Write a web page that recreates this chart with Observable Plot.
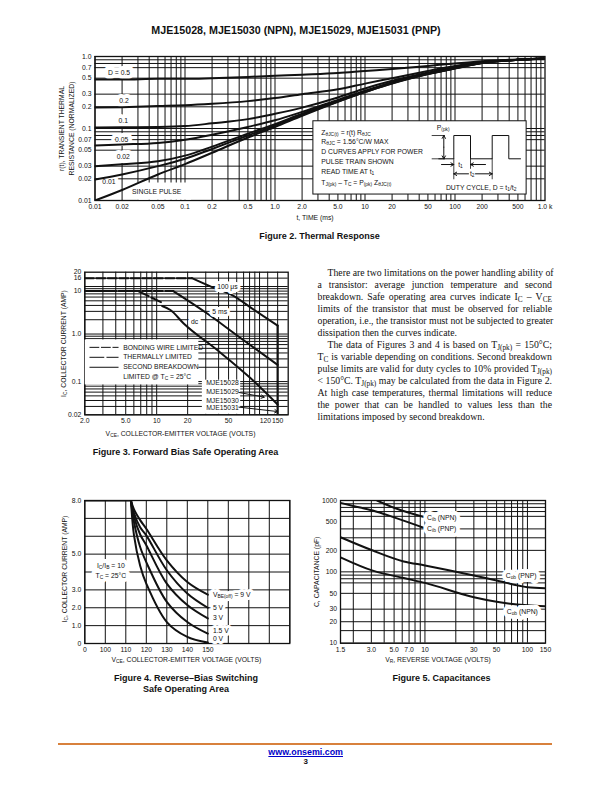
<!DOCTYPE html>
<html><head><meta charset="utf-8">
<script src="https://cdn.jsdelivr.net/npm/d3@7"></script>
<script src="https://cdn.jsdelivr.net/npm/@observablehq/plot@0.6"></script>
<style>
html,body{margin:0;padding:0;background:#fff;}
body{position:relative;width:612px;height:792px;overflow:hidden;font-family:"Liberation Sans",Arial,sans-serif;color:#111;}
.t{position:absolute;text-align:center;font-weight:bold;white-space:nowrap;transform:translateX(-50%);line-height:11px;}
#body{position:absolute;left:317.5px;top:266.5px;width:234.5px;font-family:"Liberation Serif",serif;font-size:9.75px;line-height:12.03px;color:#111;}
#body div{text-align:justify;text-align-last:justify;white-space:nowrap;height:12.03px;}
#body div.e{text-align-last:left;}
#body div.i{text-indent:10px;}
#body sub{font-size:75%;line-height:0;vertical-align:-2px;}
#rule{position:absolute;left:58.3px;width:493.7px;top:742.5px;height:2.4px;background:#d8813c;}
#url{position:absolute;left:305.7px;top:747px;transform:translateX(-50%);font-weight:bold;font-size:8.9px;color:#0000c8;text-decoration:underline;white-space:nowrap;}
#pg{position:absolute;left:305.7px;top:757px;transform:translateX(-50%);font-weight:bold;font-size:8px;}
</style></head><body>
<script>
// ---------- Figure 2 data ----------
const thermalT = [0.01,0.02,0.05,0.1,0.2,0.5,1,2,5,10,20,50,100,200,500,1000];
const thermalD05 = [0.48,0.48,0.49,0.49,0.50,0.52,0.54,0.56,0.59,0.63,0.67,0.74,0.80,0.86,0.91,0.94];
const thermalD02 = [0.195,0.198,0.205,0.21,0.22,0.24,0.265,0.30,0.35,0.42,0.50,0.63,0.74,0.83,0.90,0.94];
const thermalD01 = [0.103,0.104,0.105,0.108,0.118,0.135,0.16,0.195,0.27,0.36,0.46,0.60,0.72,0.82,0.90,0.94];
const thermalD005 = [0.058,0.06,0.063,0.07,0.082,0.105,0.13,0.17,0.25,0.335,0.44,0.58,0.70,0.82,0.90,0.94];
const thermalD002 = [0.03,0.032,0.035,0.042,0.056,0.085,0.115,0.16,0.24,0.325,0.43,0.575,0.69,0.815,0.90,0.94];
const thermalD001 = [0.0195,0.023,0.03,0.038,0.052,0.08,0.11,0.155,0.237,0.32,0.425,0.57,0.685,0.81,0.90,0.94];
const thermalSingle = [0.01,0.014,0.023,0.032,0.046,0.075,0.105,0.15,0.235,0.32,0.42,0.57,0.68,0.81,0.90,0.94];
const thermalXTicks = [0.01,0.02,0.05,0.1,0.2,0.5,1,2,5,10,20,50,100,200,500,1000];
const thermalXLabels = ["0.01","0.02","0.05","0.1","0.2","0.5","1.0","2.0","5.0","10","20","50","100","200","500","1.0 k"];
const thermalYTicks = [1,0.7,0.5,0.3,0.2,0.1,0.07,0.05,0.03,0.02,0.01];
const thermalYLabels = ["1.0","0.7","0.5","0.3","0.2","0.1","0.07","0.05","0.03","0.02","0.01"];
const thermalYGrid = [0.01,0.02,0.03,0.05,0.07,0.08,0.09,0.1,0.2,0.3,0.5,0.7,0.8,0.9,1];
const thermalCurveNames = ["D = 0.5","0.2","0.1","0.05","0.02","0.01"];
const thermalCurveNameT = [0.0185,0.021,0.0206,0.0198,0.0206,0.0143];
const thermalCurveNameR = [0.587,0.245,0.126,0.0695,0.04,0.018];
const boxLines = ["Z_{θJC(t)} = r(t) R_{θJC}","R_{θJC} = 1.56°C/W MAX","D CURVES APPLY FOR POWER","PULSE TRAIN SHOWN","READ TIME AT t_{1}","T_{J(pk)} – T_{C} = P_{(pk)} Z_{θJC(t)}"];
const boxLineR = [0.0871,0.066,0.0474,0.0348,0.025,0.0176];
// pulse diagram (inset)
const pulseT = [8.3,23.3,23.3,40,40,61.7,61.7,78.3,78.3,90];
const pulseP = [0,0,1,1,0,0,1,1,0,0];
// ---------- Figure 3 data ----------
const bondV = [2,22], bondI = [15,15];
const bond5V = [2,14.5], bond5I = [8,8];
const thermV = [2,6.6,11], thermI = [8,8,4.7];
const limit100V = [22,35,54,89,150], limit100I = [15,9.6,6.6,3.2,1.5];
const limit5V = [14.5,31,61,150], limit5I = [8,2.7,0.92,0.224];
const limitDcV = [11.3,13.6,18.3,38.8,82,150], limitDcI = [3.9,3.2,1.67,0.46,0.117,0.033];
const limitVce = [150,150], limitVceI = [1.5,0.02];
const fbXTicks = [2,5,10,20,50,114,150];
const fbXLabels = ["2.0","5.0","10","20","50","120","150"];
const fbYTicks = [20,15,8,1,0.1,0.02];
const fbYLabels = ["20","16","10","1.0","0.1","0.02"];
const fbXGrid = [2,3,4,5,6,7,8,9,10,20,30,40,50,60,70,80,90,100,120,150];
const fbYGrid = [0.02,0.03,0.04,0.05,0.06,0.07,0.08,0.09,0.1,0.2,0.3,0.4,0.5,0.6,0.7,0.8,0.9,1,2,3,4,5,6,7,8,9,10,15];
const fbLegend = ["BONDING WIRE LIMITED","THERMALLY LIMITED","SECOND BREAKDOWN","LIMITED @ T_{C} = 25°C"];
const fbLegendI = [0.525,0.324,0.2,0.123];
const fbParts = ["MJE15028","MJE15029","MJE15030","MJE15031"];
const fbPartI = [0.095,0.0608,0.0394,0.0276];
const fbCurveNames = ["100 μs","5 ms","dc"];
const fbCurveV = [48.7,41,23.4], fbCurveI = [9.8,2.9,1.8];
// ---------- Figure 4 data ----------
const rbVFlat = [0,112.5], rbIFlat = [8,8];
const rbV = [112.5,114,117,120,130,140,150];
const rb9 = [8,7.5,6.9,6.42,4.65,3.44,2.73];
const rb5 = [8,7.3,6.5,6.05,4.1,2.8,2.0];
const rb3 = [8,7.1,6.1,5.5,3.35,2.15,1.4];
const rb15 = [8,6.8,5.4,4.55,2.33,1.2,0.55];
const rb0 = [8,6.05,4.35,3.35,1.2,0.37,0.05];
const rbXLabels = ["0","100","110","120","130","140","150"];
const rbYTicks = [8,5,3,2,1,0];
const rbYLabels = ["8.0","5.0","3.0","2.0","1.0","0"];
const rbNames = ["V_{BE(off)} = 9 V","5 V","3 V","1.5 V","0 V"];
const rbNameI = [2.73,2.0,1.45,0.7,0.24];
// ---------- Figure 5 data ----------
const cibNpnV = [3.41,5,10], cibNpn = [1000,790,583];
const cibPnpV = [1.5,2,3.1,5,10], cibPnp = [927,840,725,580,409];
const cobPnpV = [1.5,3.1,6.2,10,30,50,100,150], cobPnp = [306,199,140,123,89,75.6,61,59];
const cobNpnV = [1.5,3.1,6.2,10,30,50,100,150], cobNpn = [160,104,82,70,44,38,34,33];
const capXTicks = [1.5,3,5,7,10,30,50,100,150];
const capXLabels = ["1.5","3.0","5.0","7.0","10","30","50","100","150"];
const capYTicks = [1000,500,200,100,50,30,20,10];
const capXGrid = [1.5,2,3,4,5,6,7,8,9,10,20,30,40,50,60,70,80,90,100,150];
const capYGrid = [10,15,20,30,50,70,80,90,100,200,300,400,600,700,800,900,1000];
const capNames = ["C_{ib} (NPN)","C_{ib} (PNP)","C_{ob} (PNP)","C_{ob} (NPN)"];
const capNameV = [10.5,10.5,61.4,62.8], capNameC = [570,401,89,27.2];

const FONT = "Liberation Sans";
const INK = "#111";
const zip = (xs, ys) => xs.map((x, i) => ({x, y: ys[i]}));
const decades = (ds) => ds.flatMap(d => [1,2,3,4,5,6,7,8,9].map(k => d * k));

function addSubscripts(svg) {
  svg.querySelectorAll("text, tspan").forEach(el => {
    if (el.children.length || !el.textContent.includes("_{")) return;
    const parts = el.textContent.split(/(_\{[^}]*\})/);
    el.textContent = "";
    parts.forEach(p => {
      if (!p) return;
      const s = document.createElementNS("http://www.w3.org/2000/svg", "tspan");
      if (p.startsWith("_{")) {
        s.textContent = p.slice(2, -1);
        s.setAttribute("font-size", "72%");
        s.setAttribute("baseline-shift", "-22%");
      } else s.textContent = p;
      el.appendChild(s);
    });
  });
}

function place(plotOpts, left, top) {
  const svg = Plot.plot({
    ...plotOpts,
    style: {background: "transparent", position: "absolute", left: left + "px", top: top + "px",
            fontFamily: FONT, fontSize: "6.8px", color: INK, overflow: "visible", maxWidth: "none"}
  });
  addSubscripts(svg);
  document.body.appendChild(svg);
  return svg;
}
const gridX = (v, o = {}) => Plot.ruleX(v, {stroke: INK, strokeWidth: 1, strokeOpacity: 1, ...o});
const gridY = (v, o = {}) => Plot.ruleY(v, {stroke: INK, strokeWidth: 1, strokeOpacity: 1, ...o});
const curve = (xs, ys, o = {}) => Plot.line(zip(xs, ys), {x: "x", y: "y", stroke: INK, strokeWidth: 2, curve: "monotone-x", clip: true, ...o});
const logAxes = (xv, xl, yv, yl, xPad, yPad) => [
  Plot.text(xv, {x: d => d, text: (d, i) => xl[i], frameAnchor: "bottom", lineAnchor: "top", dy: xPad, fontSize: 6.8, fill: INK}),
  Plot.text(yv, {y: d => d, text: (d, i) => yl[i], frameAnchor: "left", textAnchor: "end", dx: -yPad, fontSize: 6.8, fill: INK})
];
const plainText = (names, xs, ys, o = {}) => Plot.text(names.map((n, i) => ({n, x: xs[i], y: ys[i]})),
  {x: "x", y: "y", text: "n", fontSize: 6.8, fill: INK, ...o});
// a knocked-out label: a white halo under the text, then the text itself
const labelText = (names, xs, ys, o = {}, halo = 6) => [
  plainText(names, xs, ys, {...o, fill: "white", stroke: "white", strokeWidth: halo}),
  plainText(names, xs, ys, o)
];

// ---------- Figure 2 ----------
place({
  width: 500, height: 170, marginLeft: 44.5, marginRight: 5.5, marginTop: 6, marginBottom: 20,
  x: {type: "log", domain: [0.01, 1000], axis: null},
  y: {type: "log", domain: [0.01, 1], axis: null},
  marks: [
    gridX(decades([0.01,0.1,1,10,100])),
    gridY(thermalYGrid),
    Plot.frame({stroke: INK, strokeWidth: 1.3}),
    plainText(thermalCurveNames, thermalCurveNameT, thermalCurveNameR, {fill: "white", stroke: "white", strokeWidth: 8}),
    Plot.rect([{x1: 0.0295, x2: 0.118, y1: 0.0101, y2: 0.0175}], {x1: "x1", x2: "x2", y1: "y1", y2: "y2", fill: "white"}),
    plainText(["SINGLE PULSE"], [0.0484], [0.0133]),
    ...[thermalD05, thermalD02, thermalD01, thermalD005, thermalD002, thermalD001, thermalSingle].map(s => curve(thermalT, s)),
    plainText(thermalCurveNames, thermalCurveNameT, thermalCurveNameR),
    Plot.rect([{x1: 2.67, x2: 625, y1: 0.0121, y2: 0.126}], {x1: "x1", x2: "x2", y1: "y1", y2: "y2", fill: "white", stroke: INK, strokeWidth: 1}),
    plainText(boxLines, boxLines.map(() => 3.27), boxLineR, {textAnchor: "start"}),
    ...logAxes(thermalXTicks, thermalXLabels, thermalYTicks, thermalYLabels, 3.5, 3.5),
    Plot.text(["t, TIME (ms)"], {frameAnchor: "bottom", dy: 19, dx: -5, fontSize: 6.8, fill: INK}),
    Plot.text(["r(t), TRANSIENT THERMAL\nRESISTANCE (NORMALIZED)"], {frameAnchor: "left", textAnchor: "middle", rotate: -90, dx: -29, fontSize: 6.8, fill: INK, lineHeight: 1.38})
  ]
}, 50, 50);

// pulse train inset
place({
  width: 95, height: 70, margin: 0,
  x: {domain: [0, 95], axis: null},
  y: {domain: [-1.575, 1.43], axis: null},
  marks: [
    Plot.line(zip(pulseT, pulseP), {x: "x", y: "y", stroke: INK, strokeWidth: 1}),
    Plot.ruleY([0, 1], {x1: 1.7, x2: 15, stroke: INK, strokeWidth: 0.8}),
    Plot.arrow([{x1: 13.3, x2: 13.3, y1: 0.5, y2: 1}, {x1: 13.3, x2: 13.3, y1: 0.5, y2: 0}],
      {x1: "x1", x2: "x2", y1: "y1", y2: "y2", stroke: INK, strokeWidth: 1, headLength: 5}),
    Plot.ruleX([23.3], {y1: 0, y2: -0.9, stroke: INK, strokeWidth: 0.8}),
    Plot.ruleX([40], {y1: 0, y2: -0.45, stroke: INK, strokeWidth: 0.8}),
    Plot.ruleX([61.7], {y1: 0, y2: -0.9, stroke: INK, strokeWidth: 0.8}),
    Plot.arrow([
      {x1: 11, x2: 23.3, y1: -0.245, y2: -0.245}, {x1: 55, x2: 40, y1: -0.245, y2: -0.245},
      {x1: 38, x2: 23.3, y1: -0.644, y2: -0.644}, {x1: 45, x2: 61.7, y1: -0.644, y2: -0.644}],
      {x1: "x1", x2: "x2", y1: "y1", y2: "y2", stroke: INK, strokeWidth: 1, headLength: 5}),
    plainText(["P_{(pk)}", "t_{1}", "t_{2}", "DUTY CYCLE, D = t_{1}/t_{2}"], [12.7, 30, 41.7, 50.7], [1.31, -0.245, -0.644, -1.26])
  ]
}, 430, 125);

// ---------- Figure 3 ----------
place({
  width: 238, height: 170, marginLeft: 34.3, marginRight: 0.3, marginTop: 11.7, marginBottom: 15.7,
  x: {type: "log", domain: [2, 190], axis: null},
  y: {type: "log", domain: [0.02, 20], axis: null},
  marks: [
    gridX(fbXGrid),
    gridY(fbYGrid),
    Plot.frame({stroke: INK, strokeWidth: 1.3}),
    Plot.rect([{x1: 2.02, x2: 25.7, y1: 0.085, y2: 0.75}, {x1: 27.8, x2: 65.6, y1: 0.0205, y2: 0.107}],
      {x1: "x1", x2: "x2", y1: "y1", y2: "y2", fill: "white"}),
    curve(bondV, bondI, {strokeDasharray: "9,2.5", curve: "linear"}),
    curve(bond5V, bond5I, {strokeDasharray: "9,2.5", curve: "linear"}),
    curve(thermV, thermI, {strokeDasharray: "14,3", curve: "linear"}),
    curve(limit100V, limit100I),
    curve(limit5V, limit5I),
    curve(limitDcV, limitDcI),
    curve(limitVce, limitVceI, {curve: "linear", strokeWidth: 2.2}),
    curve([2.24,4.22], [fbLegendI[0],fbLegendI[0]], {strokeDasharray: "9,2.5", curve: "linear", strokeWidth: 1}),
    curve([2.24,4.22], [fbLegendI[1],fbLegendI[1]], {strokeDasharray: "14,3", curve: "linear", strokeWidth: 1}),
    curve([2.24,4.22], [fbLegendI[2],fbLegendI[2]], {curve: "linear", strokeWidth: 1}),
    plainText(fbLegend, fbLegend.map(() => 4.72), fbLegendI, {textAnchor: "start"}),
    plainText(fbParts, fbParts.map(() => 43.6), fbPartI),
    Plot.arrow([{x1: 63, x2: 111, y1: 0.059, y2: 0.047}, {x1: 63, x2: 150, y1: 0.029, y2: 0.0234}],
      {x1: "x1", x2: "x2", y1: "y1", y2: "y2", stroke: INK, strokeWidth: 1, headLength: 5}),
    ...labelText(fbCurveNames, fbCurveV, fbCurveI),
    ...logAxes(fbXTicks, fbXLabels, fbYTicks, fbYLabels, 3.8, 3.5),
    Plot.text(["V_{CE}, COLLECTOR-EMITTER VOLTAGE (VOLTS)"], {frameAnchor: "bottom", dy: 21, dx: -6, fontSize: 6.8, fill: INK}),
    Plot.text(["I_{C}, COLLECTOR CURRENT (AMP)"], {frameAnchor: "left", textAnchor: "middle", rotate: -90, dx: -21, fontSize: 6.8, fill: INK})
  ]
}, 50, 260);

// ---------- Figure 4 ----------
const rbPos = v => v <= 100 ? v / 100 : 1 + (v - 100) / 10;
place({
  width: 240, height: 160, marginLeft: 34.3, marginRight: 0.7, marginTop: 4, marginBottom: 13,
  x: {domain: [0, 10]},
  y: {domain: [0, 8]},
  marks: [
    gridX([0,1,2,3,4,5,6,7,8,9,10]),
    gridY([0,1,2,3,4,5,6,7,8]),
    Plot.frame({stroke: INK, strokeWidth: 1.3}),
    ...labelText(["I_{C}/I_{B} = 10", "T_{C} = 25°C"], [1.27, 1.27], [4.37, 3.77], {}, 8),
    curve(rbVFlat.map(rbPos), rbIFlat, {curve: "linear", strokeWidth: 2.2}),
    ...[rb9, rb5, rb3, rb15, rb0].map(s => curve(rbV.map(rbPos), s, {curve: "catmull-rom"})),
    ...labelText(rbNames, rbNames.map(() => 6.25), rbNameI, {textAnchor: "start"}),
    Plot.axisX({ticks: [0,1,2,3,4,5,6], tickFormat: (d, i) => rbXLabels[i], tickSize: 0, tickPadding: 3.5, label: null, fontSize: 6.8, fill: INK}),
    Plot.axisY({ticks: rbYTicks, tickFormat: (d, i) => rbYLabels[i], tickSize: 0, tickPadding: 3.5, label: null, fontSize: 6.8, fill: INK}),
    Plot.text(["V_{CE}, COLLECTOR-EMITTER VOLTAGE (VOLTS)"], {frameAnchor: "bottom", dy: 18, dx: -1, fontSize: 6.8, fill: INK}),
    Plot.text(["I_{C}, COLLECTOR CURRENT (AMP)"], {frameAnchor: "left", textAnchor: "middle", rotate: -90, dx: -20, dy: -3, fontSize: 6.8, fill: INK})
  ]
}, 50, 496);

// ---------- Figure 5 ----------
place({
  width: 240, height: 160, marginLeft: 35, marginRight: 0, marginTop: 4, marginBottom: 13.3,
  x: {type: "log", domain: [1.5, 150], axis: null},
  y: {type: "log", domain: [10, 1000], axis: null},
  marks: [
    gridX(capXGrid),
    gridY(capYGrid),
    Plot.frame({stroke: INK, strokeWidth: 1.3}),
    curve(cibNpnV, cibNpn),
    curve(cibPnpV, cibPnp),
    curve(cobPnpV, cobPnp),
    curve(cobNpnV, cobNpn),
    ...labelText(capNames, capNameV, capNameC, {textAnchor: "start"}, 8),
    ...logAxes(capXTicks, capXLabels, capYTicks, capYTicks.map(String), 3.5, 3.5),
    Plot.text(["V_{R}, REVERSE VOLTAGE (VOLTS)"], {frameAnchor: "bottom", dy: 19, dx: -5, fontSize: 6.8, fill: INK}),
    Plot.text(["C, CAPACITANCE (pF)"], {frameAnchor: "left", textAnchor: "middle", rotate: -90, dx: -24, fontSize: 6.8, fill: INK})
  ]
}, 305, 496);

// ---------- Page text ----------
const pageTexts = [
  ["MJE15028, MJE15030 (NPN), MJE15029, MJE15031 (PNP)", 296, 24.5, 10.7],
  ["Figure 2. Thermal Response", 319.5, 230.5, 9],
  ["Figure 3. Forward Bias Safe Operating Area", 185.5, 446.5, 9],
  ["Figure 4. Reverse–Bias Switching", 186, 672.5, 9],
  ["Safe Operating Area", 186, 683.5, 9],
  ["Figure 5. Capacitances", 441.5, 672.5, 9]
];
pageTexts.forEach(([s, x, y, fs]) => {
  const d = document.createElement("div");
  d.className = "t"; d.textContent = s;
  d.style.left = x + "px"; d.style.top = y + "px"; d.style.fontSize = fs + "px";
  document.body.appendChild(d);
});
const bodyLines = [
  ["i", "There are two limitations on the power handling ability of"],
  ["", "a transistor: average junction temperature and second"],
  ["", "breakdown. Safe operating area curves indicate I<sub>C</sub> – V<sub>CE</sub>"],
  ["", "limits of the transistor that must be observed for reliable"],
  ["", "operation, i.e., the transistor must not be subjected to greater"],
  ["e", "dissipation then the curves indicate."],
  ["i", "The data of Figures 3 and 4 is based on T<sub>J(pk)</sub> = 150°C;"],
  ["", "T<sub>C</sub> is variable depending on conditions. Second breakdown"],
  ["", "pulse limits are valid for duty cycles to 10% provided T<sub>J(pk)</sub>"],
  ["", "&lt; 150°C. T<sub>J(pk)</sub> may be calculated from the data in Figure 2."],
  ["", "At high case temperatures, thermal limitations will reduce"],
  ["", "the power that can be handled to values less than the"],
  ["e", "limitations imposed by second breakdown."]
];
const body = document.createElement("div"); body.id = "body";
body.innerHTML = bodyLines.map(([c, s]) => `<div class="${c}">${s}</div>`).join("");
document.body.appendChild(body);
const rule = document.createElement("div"); rule.id = "rule"; document.body.appendChild(rule);
const url = document.createElement("div"); url.id = "url"; url.textContent = "www.onsemi.com"; document.body.appendChild(url);
const pg = document.createElement("div"); pg.id = "pg"; pg.textContent = "3"; document.body.appendChild(pg);
</script>
</body></html>
